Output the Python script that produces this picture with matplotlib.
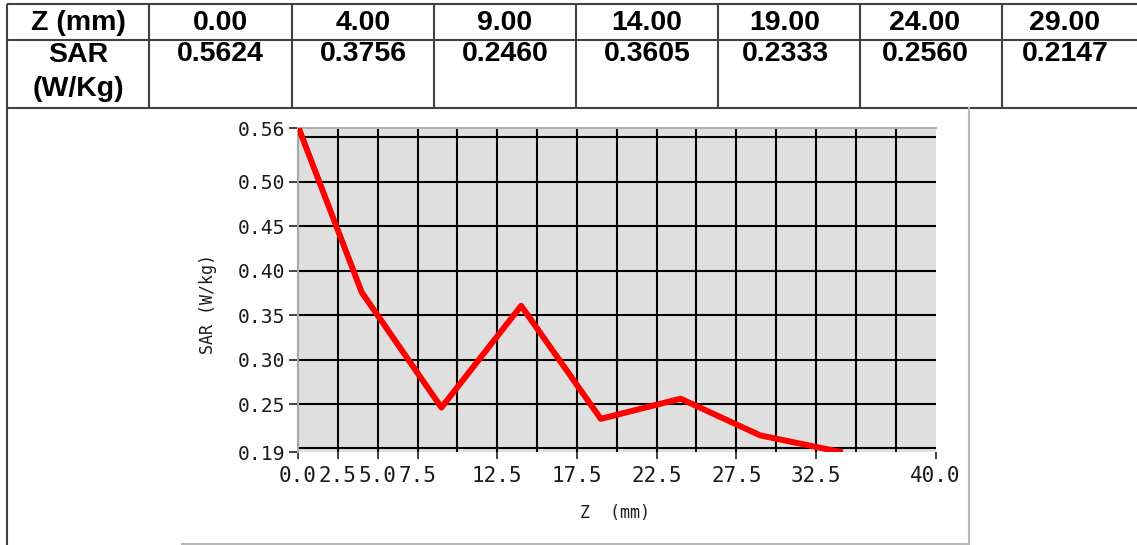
import matplotlib
matplotlib.use("Agg")
import matplotlib.pyplot as plt

# ---------------- data ----------------
table_header = "Z (mm)"
table_row_label = "SAR\n(W/Kg)"
z_table = ["0.00", "4.00", "9.00", "14.00", "19.00", "24.00", "29.00"]
sar_table = ["0.5624", "0.3756", "0.2460", "0.3605", "0.2333", "0.2560", "0.2147"]

z_mm = [0, 4, 9, 14, 19, 24, 29, 34]
sar = [0.5624, 0.3756, 0.2460, 0.3605, 0.2333, 0.2560, 0.2147, 0.1962]

xtick_values = [0.0, 2.5, 5.0, 7.5, 12.5, 17.5, 22.5, 27.5, 32.5, 40.0]
xtick_labels = ["0.0", "2.5", "5.0", "7.5", "12.5", "17.5", "22.5", "27.5", "32.5", "40.0"]
ytick_values = [0.196, 0.25, 0.30, 0.35, 0.40, 0.45, 0.50, 0.5605]
ytick_labels = ["0.19", "0.25", "0.30", "0.35", "0.40", "0.45", "0.50", "0.56"]
xgrid = [2.5, 5.0, 7.5, 10.0, 12.5, 15.0, 17.5, 20.0, 22.5, 25.0, 27.5, 30.0, 32.5, 35.0, 37.5]
ygrid = [0.20, 0.25, 0.30, 0.35, 0.40, 0.45, 0.50, 0.55]

x_label = "Z  (mm)"
y_label = "SAR (W/kg)"

# ---------------- layout ----------------
W, H = 1137, 545
fig = plt.figure(figsize=(W / 100, H / 100), dpi=100)
fig.patch.set_facecolor("white")

bg = fig.add_axes([0, 0, 1, 1])
bg.set_xlim(0, W)
bg.set_ylim(H, 0)
bg.axis("off")

tcol = "#404040"
tlw = 1.5
for yy in (4, 40, 108):
    bg.plot([7, W], [yy, yy], color=tcol, lw=tlw, solid_capstyle="butt")
bg.plot([7, 7], [4, H], color=tcol, lw=tlw, solid_capstyle="butt")
col_edges = [149, 292, 434, 576, 718, 860, 1002]
for xx in col_edges:
    bg.plot([xx, xx], [4, 108], color=tcol, lw=tlw, solid_capstyle="butt")

fcol = "#b8b8b8"
bg.plot([968.5, 968.5], [108, 543.5], color=fcol, lw=1.5)
bg.plot([182, 968.5], [543.5, 543.5], color=fcol, lw=1.5)

tfont = dict(family="Liberation Sans", weight="bold", fontsize=20.5, color="black")
text_centers = [220.5, 363, 505, 647, 785, 925, 1065]
bg.text(78, 23.5, table_header, ha="center", va="center", **tfont)
bg.text(78, 72, table_row_label, ha="center", va="center", linespacing=1.45, **tfont)
for cx, zt, st in zip(text_centers, z_table, sar_table):
    bg.text(cx, 23.5, zt, ha="center", va="center", **tfont)
    bg.text(cx, 54, st, ha="center", va="center", **tfont)

# ---------------- chart ----------------
left, right, top, bottom = 298, 935.5, 128, 452
ax = fig.add_axes([left / W, 1 - bottom / H, (right - left) / W, (bottom - top) / H])
ax.set_facecolor("#dfdfdf")
ax.set_xlim(0, 40)
ax.set_ylim(ytick_values[0], ytick_values[-1])

for g in xgrid:
    ax.axvline(g, color="black", lw=1.5, zorder=1)
for g in ygrid:
    ax.axhline(g, color="black", lw=1.5, zorder=1)

ax.plot(z_mm, sar, color="#ff0000", lw=4.3, zorder=3, solid_joinstyle="round")

for s in ("bottom", "right"):
    ax.spines[s].set_visible(False)
ax.spines["top"].set_color("#b0b0b0")
ax.spines["top"].set_linewidth(1.5)
ax.spines["left"].set_color("#a8a8a8")
ax.spines["left"].set_linewidth(1.5)

ax.set_xticks(xtick_values)
ax.set_xticklabels(xtick_labels)
ax.set_yticks(ytick_values)
ax.set_yticklabels(ytick_labels)
for lab in ax.get_xticklabels():
    lab.set_fontfamily("DejaVu Sans Mono")
    lab.set_fontsize(15)
    lab.set_color("#1a1a1a")
for lab in ax.get_yticklabels():
    lab.set_fontfamily("DejaVu Sans Mono")
    lab.set_fontsize(14.2)
    lab.set_color("#1a1a1a")
ax.tick_params(axis="x", direction="out", length=5, width=1.2, color="#222222", pad=5)
ax.tick_params(axis="y", direction="out", length=6.5, width=1.2, color="#222222", pad=3)

fig.text(615 / W, 1 - 513 / H, x_label, ha="center", va="center",
         family="DejaVu Sans Mono", fontsize=12, color="#1a1a1a")
fig.text(208 / W, 1 - 304 / H, y_label, ha="center", va="center", rotation=90,
         family="DejaVu Sans Mono", fontsize=12, color="#1a1a1a")

fig.savefig("out.png", dpi=100, facecolor="white")
